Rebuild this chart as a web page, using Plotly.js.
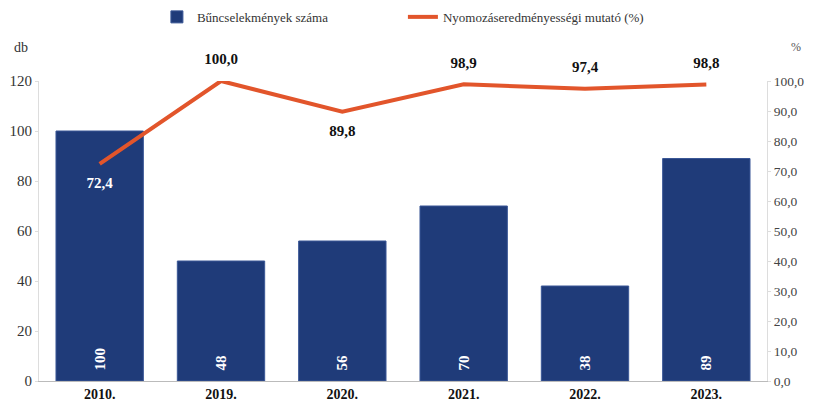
<!DOCTYPE html>
<html><head><meta charset="utf-8">
<script src="https://cdn.plot.ly/plotly-3.0.1.min.js"></script>
<style>html,body{margin:0;padding:0;background:#fff}#c{width:813px;height:403px}</style>
</head><body><div id="c"></div>
<script>
const years = ['2010.', '2019.', '2020.', '2021.', '2022.', '2023.'];
const crimeCounts = [100, 48, 56, 70, 38, 89];
const clearanceRate = [72.4, 100.0, 89.8, 98.9, 97.4, 98.8];
const rateLabelPos = ['bottom center', 'top center', 'bottom center', 'top center', 'top center', 'top center'];
const rateLabelColor = ['#ffffff', '#111111', '#111111', '#111111', '#111111', '#111111'];
const barName = 'Bűncselekmények száma';
const lineName = 'Nyomozáseredményességi mutató (%)';

const serif = 'Liberation Serif';
const pad = '\u00a0\u00a0';

const bars = {
  type: 'bar', x: years, y: crimeCounts, name: barName,
  marker: {color: '#1f3b79', line: {color: '#3a5796', width: 1}},
  width: 0.72,
  text: crimeCounts.map(v => pad + String(v)), textposition: 'inside', insidetextanchor: 'start',
  textangle: -90, textfont: {family: serif, size: 15, color: '#ffffff', weight: 'bold'},
  hoverinfo: 'x+y', cliponaxis: false
};
const line = {
  type: 'scatter', mode: 'lines+markers+text', x: years, y: clearanceRate, yaxis: 'y2', name: lineName,
  line: {color: '#e2552b', width: 4},
  marker: {size: 19, color: 'rgba(0,0,0,0)'},
  text: clearanceRate.map(v => v.toFixed(1).replace('.', ',')),
  textposition: rateLabelPos,
  textfont: {family: serif, size: 15, color: rateLabelColor, weight: 'bold'},
  cliponaxis: false
};

const layout = {
  width: 813, height: 403,
  margin: {l: 39, r: 46, t: 81, b: 22},
  paper_bgcolor: '#ffffff', plot_bgcolor: '#ffffff',
  separators: ', ',
  font: {family: serif, size: 13, color: '#333'},
  showlegend: true,
  legend: {orientation: 'h', xref: 'container', yref: 'container', x: 0.193, xanchor: 'left',
           y: 0.958, yanchor: 'middle',
           font: {family: serif, size: 13, color: '#333'}, itemwidth: 30, traceorder: 'normal',
           entrywidth: 201, entrywidthmode: 'pixels'},
  bargap: 0.28,
  xaxis: {type: 'category', showline: true, linecolor: '#bbb', linewidth: 1, ticks: '',
          tickfont: {family: serif, size: 14, color: '#111', weight: 'bold'}, showgrid: false,
          fixedrange: true},
  yaxis: {range: [0, 120], dtick: 20, showgrid: false, zeroline: false, showline: true,
          linecolor: '#ddd', ticks: 'outside', ticklen: 3, tickcolor: '#ddd',
          tickfont: {family: serif, size: 15, color: '#333'}},
  yaxis2: {range: [0, 100], dtick: 10, overlaying: 'y', side: 'right', showgrid: false,
           zeroline: false, showline: true, linecolor: '#ddd', ticks: 'outside', ticklen: 3,
           tickcolor: '#ddd', tickformat: '.1f',
           tickfont: {family: serif, size: 13.5, color: '#444'}},
  annotations: [
    {text: 'db', xref: 'paper', yref: 'paper', x: -0.012, y: 1.113, xanchor: 'right', yanchor: 'middle',
     showarrow: false, font: {family: serif, size: 14, color: '#333'}},
    {text: '%', xref: 'paper', yref: 'paper', x: 1.03, y: 1.113, xanchor: 'left', yanchor: 'middle',
     showarrow: false, font: {family: serif, size: 12, color: '#555'}}
  ]
};
Plotly.newPlot('c', [bars, line], layout, {displayModeBar: false, staticPlot: true});
</script></body></html>
